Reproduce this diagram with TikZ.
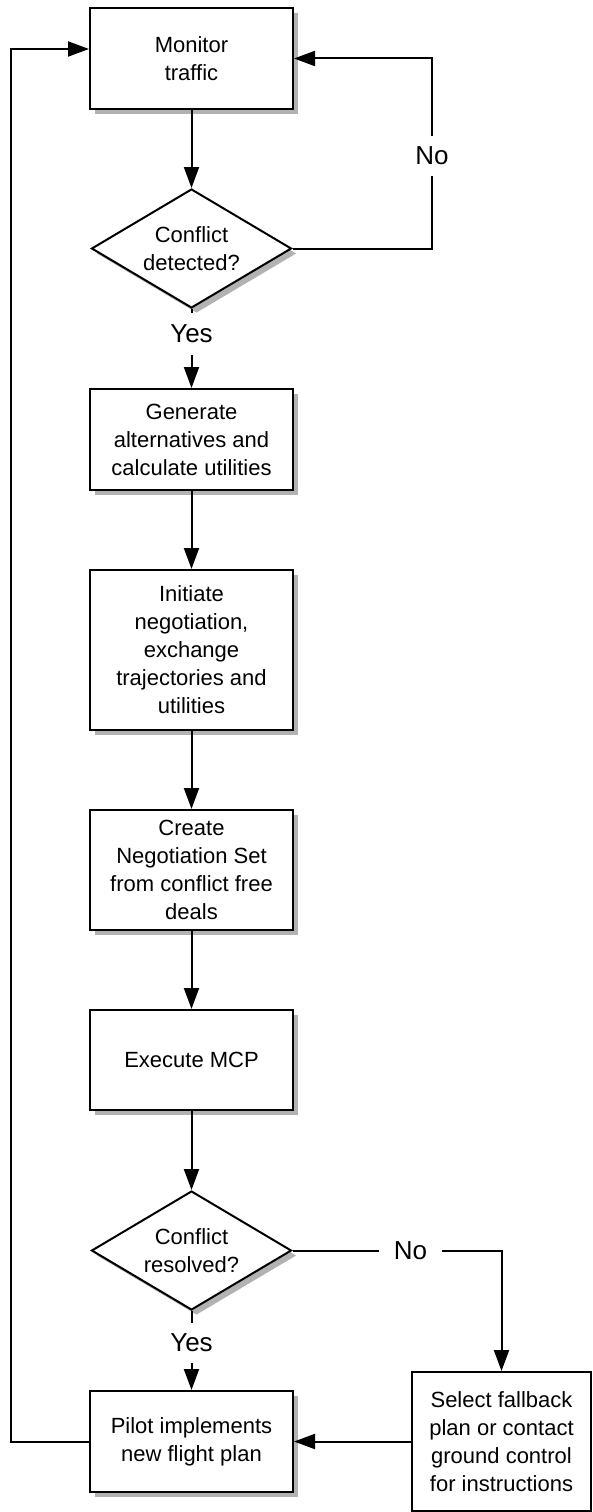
\documentclass[tikz,border=0pt]{standalone}
\usepackage{fontspec}
\setmainfont{Liberation Sans}
\usetikzlibrary{shapes.geometric,arrows.meta,shadows,calc}
\begin{document}
\begin{tikzpicture}[x=1pt,y=-1pt,
  line width=2pt,
  arr/.style={-{Triangle[length=21pt,width=15pt]}},
  shade/.style={drop shadow={shadow xshift=5pt,shadow yshift=-5pt,opacity=0.3,fill=black}},
  box/.style={draw,fill=white,rectangle,minimum width=203pt,inner sep=0pt,align=center,
    font=\fontsize{22}{28}\selectfont},
  dec/.style={draw,fill=white,diamond,shape aspect=1.67,minimum width=200pt,minimum height=119pt,
    inner sep=0pt,align=center,font=\fontsize{22}{28}\selectfont,shade},
  lbl/.style={fill=white,font=\fontsize{26}{30}\selectfont,inner xsep=2pt,inner ysep=3pt}
]
\useasboundingbox (0,0) rectangle (592,1512);

\node[box,shade,minimum height=101pt] (mon) at (191.5,58.5) {Monitor\\traffic};
\node[dec] (d1) at (191.5,248.5) {Conflict\\detected?};
\node[box,shade,minimum height=101pt] (gen) at (191.5,439.5) {Generate\\alternatives and\\calculate utilities};
\node[box,shade,minimum height=160pt] (init) at (191.5,650) {Initiate\\negotiation,\\exchange\\trajectories and\\utilities};
\node[box,shade,minimum height=120pt] (cre) at (191.5,870) {Create\\Negotiation Set\\from conflict free\\deals};
\node[box,shade,minimum height=100pt] (exe) at (191.5,1060) {Execute MCP};
\node[dec] (d2) at (191.5,1250.5) {Conflict\\resolved?};
\node[box,shade,minimum height=101pt] (pil) at (191.5,1441.5) {Pilot implements\\new flight plan};
\node[box,minimum width=179pt,minimum height=139pt] (sel) at (501.5,1441.5) {Select fallback\\plan or contact\\ground control\\for instructions};

\coordinate (nr) at (432,58.5);
\coordinate (lt) at (11,49);

\draw[arr] (mon.south) -- (d1.north);
\draw[arr] (d1.east) -| (nr) -- (mon.east);
\draw[arr] (d1.south) -- (gen.north);
\draw[arr] (gen.south) -- (init.north);
\draw[arr] (init.south) -- (cre.north);
\draw[arr] (cre.south) -- (exe.north);
\draw[arr] (exe.south) -- (d2.north);
\draw[arr] (d2.south) -- (pil.north);
\draw[arr] (d2.east) -| (sel.north);
\draw[arr] (sel.west) -- (pil.east);
\draw[arr] (pil.west) -| (lt) -- (mon.west |- lt);

\node[lbl,inner ysep=11pt] (no1) at (432,156) {No};
\node[lbl,inner ysep=12pt] (yes1) at (191.5,334) {Yes};
\node[lbl,inner xsep=15pt] (no2) at (410.5,1251) {No};
\node[lbl,inner ysep=11pt] (yes2) at (191.5,1343) {Yes};
\end{tikzpicture}
\end{document}
